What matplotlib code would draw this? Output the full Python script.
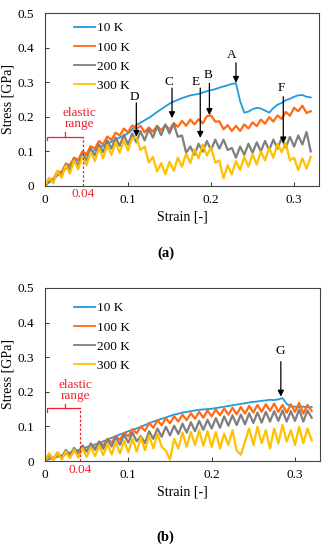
import matplotlib
matplotlib.use("Agg")
import matplotlib.pyplot as plt
import numpy as np

plt.rcParams['font.family'] = ['Liberation Serif', 'DejaVu Serif']

# shared strain grid (every 0.005 from 0 to 0.32)
strain = np.round(np.arange(0, 0.3226, 0.005), 3)
labels = ["10 K", "100 K", "200 K", "300 K"]
colors = ["#1F9BDE", "#FF6A13", "#7F7F7F", "#FFC000"]

# ---- panel (a) ----
a_10K = [0.000, 0.010, 0.020, 0.030, 0.040, 0.050, 0.060, 0.068, 0.076, 0.083,
         0.090, 0.097, 0.104, 0.110, 0.116, 0.122, 0.128, 0.134, 0.140, 0.146,
         0.152, 0.163, 0.176, 0.183, 0.190, 0.197, 0.205, 0.214, 0.222, 0.230,
         0.238, 0.244, 0.249, 0.254, 0.258, 0.262, 0.264, 0.266, 0.270, 0.274,
         0.277, 0.280, 0.284, 0.288, 0.291, 0.295, 0.297, 0.245, 0.212, 0.215,
         0.222, 0.226, 0.224, 0.218, 0.212, 0.225, 0.235, 0.240, 0.248, 0.252,
         0.258, 0.262, 0.263, 0.258, 0.256]
a_100K = [0.004, 0.020, 0.018, 0.043, 0.039, 0.065, 0.060, 0.082, 0.075, 0.100,
          0.092, 0.115, 0.108, 0.130, 0.120, 0.143, 0.133, 0.154, 0.146, 0.166,
          0.155, 0.175, 0.165, 0.174, 0.155, 0.169, 0.157, 0.174, 0.161, 0.176,
          0.163, 0.182, 0.171, 0.188, 0.174, 0.192, 0.178, 0.193, 0.181, 0.202,
          0.204, 0.186, 0.187, 0.164, 0.176, 0.159, 0.174, 0.159, 0.178, 0.166,
          0.184, 0.173, 0.192, 0.180, 0.199, 0.186, 0.204, 0.194, 0.214, 0.203,
          0.226, 0.216, 0.232, 0.211, 0.216]
a_200K = [0.000, 0.018, 0.014, 0.042, 0.030, 0.062, 0.046, 0.078, 0.060, 0.094,
          0.074, 0.108, 0.088, 0.120, 0.098, 0.132, 0.108, 0.140, 0.116, 0.148,
          0.120, 0.152, 0.126, 0.158, 0.132, 0.164, 0.140, 0.172, 0.147, 0.178,
          0.152, 0.180, 0.142, 0.146, 0.096, 0.114, 0.090, 0.122, 0.099, 0.130,
          0.104, 0.134, 0.108, 0.134, 0.104, 0.110, 0.082, 0.114, 0.090, 0.122,
          0.096, 0.126, 0.100, 0.130, 0.104, 0.134, 0.108, 0.138, 0.111, 0.142,
          0.114, 0.146, 0.120, 0.156, 0.100]
a_300K = [0.000, 0.024, 0.008, 0.044, 0.024, 0.060, 0.036, 0.074, 0.048, 0.086,
          0.060, 0.098, 0.072, 0.110, 0.080, 0.118, 0.090, 0.126, 0.096, 0.132,
          0.102, 0.138, 0.140, 0.104, 0.114, 0.068, 0.084, 0.042, 0.066, 0.034,
          0.070, 0.044, 0.082, 0.056, 0.094, 0.066, 0.106, 0.080, 0.120, 0.088,
          0.112, 0.068, 0.074, 0.022, 0.060, 0.034, 0.072, 0.046, 0.084, 0.056,
          0.092, 0.062, 0.100, 0.074, 0.110, 0.082, 0.122, 0.098, 0.124, 0.074,
          0.082, 0.046, 0.080, 0.050, 0.084]

# ---- panel (b) ----
b_10K = [0.000, 0.005, 0.008, 0.012, 0.016, 0.020, 0.024, 0.028, 0.032, 0.036,
         0.040, 0.044, 0.048, 0.052, 0.057, 0.062, 0.067, 0.072, 0.077, 0.081,
         0.086, 0.090, 0.094, 0.099, 0.104, 0.109, 0.114, 0.118, 0.122, 0.126,
         0.130, 0.134, 0.137, 0.140, 0.142, 0.144, 0.146, 0.148, 0.149, 0.150,
         0.151, 0.153, 0.155, 0.157, 0.159, 0.161, 0.163, 0.165, 0.167, 0.169,
         0.171, 0.172, 0.174, 0.175, 0.177, 0.176, 0.178, 0.182, 0.165, 0.158,
         0.157, 0.156, 0.157, 0.155, 0.156]
b_100K = [0.002, 0.014, 0.004, 0.018, 0.008, 0.024, 0.012, 0.030, 0.020, 0.038,
          0.028, 0.046, 0.037, 0.056, 0.045, 0.064, 0.053, 0.072, 0.061, 0.082,
          0.071, 0.092, 0.080, 0.100, 0.087, 0.110, 0.096, 0.118, 0.103, 0.124,
          0.109, 0.129, 0.114, 0.134, 0.118, 0.138, 0.122, 0.142, 0.125, 0.146,
          0.129, 0.149, 0.132, 0.152, 0.134, 0.154, 0.135, 0.156, 0.137, 0.159,
          0.140, 0.162, 0.142, 0.164, 0.145, 0.166, 0.142, 0.162, 0.139, 0.164,
          0.142, 0.168, 0.137, 0.162, 0.145]
b_200K = [0.000, 0.020, 0.006, 0.024, 0.010, 0.032, 0.018, 0.038, 0.022, 0.045,
          0.027, 0.051, 0.032, 0.056, 0.035, 0.062, 0.042, 0.069, 0.047, 0.076,
          0.053, 0.082, 0.057, 0.072, 0.052, 0.086, 0.064, 0.094, 0.070, 0.099,
          0.074, 0.102, 0.078, 0.108, 0.082, 0.112, 0.086, 0.116, 0.090, 0.119,
          0.094, 0.124, 0.096, 0.129, 0.102, 0.132, 0.104, 0.134, 0.106, 0.138,
          0.110, 0.140, 0.111, 0.142, 0.114, 0.144, 0.116, 0.146, 0.114, 0.144,
          0.116, 0.149, 0.114, 0.146, 0.125]
b_300K = [0.000, 0.022, 0.003, 0.025, 0.004, 0.028, 0.008, 0.033, 0.010, 0.037,
          0.012, 0.040, 0.014, 0.044, 0.017, 0.049, 0.019, 0.054, 0.022, 0.059,
          0.025, 0.064, 0.027, 0.069, 0.031, 0.074, 0.036, 0.079, 0.041, 0.030,
          0.004, 0.064, 0.036, 0.082, 0.041, 0.084, 0.046, 0.089, 0.044, 0.086,
          0.041, 0.084, 0.036, 0.079, 0.046, 0.089, 0.030, 0.018, 0.056, 0.094,
          0.046, 0.099, 0.051, 0.089, 0.036, 0.094, 0.051, 0.104, 0.056, 0.089,
          0.046, 0.099, 0.051, 0.094, 0.060]

yticks = [0, 0.1, 0.2, 0.3, 0.4, 0.5]
ytick_labels = ["0", "0.1", "0.2", "0.3", "0.4", "0.5"]
xticks = [0, 0.1, 0.2, 0.3]
xtick_labels = ["0", "0.1", "0.2", "0.3"]

# arrows: label, text x, text y, shaft x, shaft top, tip
arrows_a = [("A", 0.225, 0.378, 0.230, 0.356, 0.298),
            ("B", 0.196, 0.320, 0.198, 0.297, 0.205),
            ("C", 0.149, 0.300, 0.153, 0.283, 0.196),
            ("D", 0.108, 0.258, 0.110, 0.240, 0.142),
            ("E", 0.181, 0.300, 0.187, 0.283, 0.139),
            ("F", 0.285, 0.283, 0.287, 0.258, 0.123)]
arrows_b = [("G", 0.282, 0.318, 0.283, 0.287, 0.186)]

RED = "#F0202E"
W, H = 331, 550
fig = plt.figure(figsize=(W / 100, H / 100), dpi=100)


def panel(rect, series, arrows, elastic_x, bracket_y, txt_x, tag, tag_y, e04_pad, leg_y):
    ax = fig.add_axes(rect)
    for i, (y, c, lab) in enumerate(zip(series, colors, labels)):
        ax.plot(strain, y, color=c, lw=1.3 if i == 0 else 1.6, label=lab)
    ax.set_xlim(0, 0.33)
    ax.set_ylim(0, 0.5)
    ax.set_xticks(xticks)
    ax.set_xticklabels(xtick_labels)
    ax.set_yticks(yticks)
    ax.set_yticklabels(ytick_labels)
    ax.tick_params(direction="in", length=3, width=0.7, labelsize=9.5,
                   color="#333333")
    ax.tick_params(axis="y", pad=8)
    ax.tick_params(axis="x", pad=6)
    for s in ax.spines.values():
        s.set_color("#444444")
        s.set_linewidth(0.8)
    ax.set_xlabel("Strain [-]", fontsize=10, labelpad=3)
    ax.set_ylabel("Stress [GPa]", fontsize=10, labelpad=2)

    leg = ax.legend(loc="upper left", bbox_to_anchor=(0.072, leg_y), frameon=False,
                    fontsize=9.5, handlelength=1.6, handletextpad=0.15,
                    labelspacing=0.52, borderpad=0.2)
    for ln in leg.get_lines():
        ln.set_linewidth(1.3)

    for lab, tx, ty, sx, top, tip in arrows:
        ax.text(tx, ty, lab, fontsize=9.5, ha="center", va="center")
        ax.annotate("", xy=(sx, tip), xytext=(sx, top),
                    arrowprops=dict(arrowstyle="-|>", color="black", lw=0.9,
                                    mutation_scale=9, shrinkA=0, shrinkB=0))

    # elastic range bracket
    ax.plot([0.002, 0.002, elastic_x], [bracket_y - 0.011, bracket_y, bracket_y],
            color=RED, lw=0.9, clip_on=False)
    ax.plot([0.024, 0.024], [bracket_y, bracket_y + 0.012], color=RED, lw=0.9)
    ax.plot([elastic_x, elastic_x], [0, bracket_y], color=RED, lw=0.9, ls=(0, (2, 1.5)))
    ax.text(txt_x, bracket_y + 0.069, "elastic", color=RED, fontsize=9.5,
            ha="center", va="center")
    ax.text(txt_x, bracket_y + 0.035, "range", color=RED, fontsize=9.5,
            ha="center", va="center")
    ax.text(elastic_x, -e04_pad, "0.04", color=RED, fontsize=9.5,
            ha="center", va="center")
    fig.text(0.5, tag_y, tag, fontsize=10.5, ha="center", va="center",
             fontweight="bold")
    return ax


panel([45 / W, 1 - 186 / H, 274 / W, 173 / H], [a_10K, a_100K, a_200K, a_300K],
      arrows_a, 0.046, 0.143, 0.041, "(a)", 1 - 253 / H, 0.022, 1.0)
panel([45 / W, 1 - 461 / H, 275 / W, 173 / H], [b_10K, b_100K, b_200K, b_300K],
      arrows_b, 0.042, 0.152, 0.037, "(b)", 1 - 537 / H, 0.026, 0.971)

fig.savefig("out.png", dpi=100)
